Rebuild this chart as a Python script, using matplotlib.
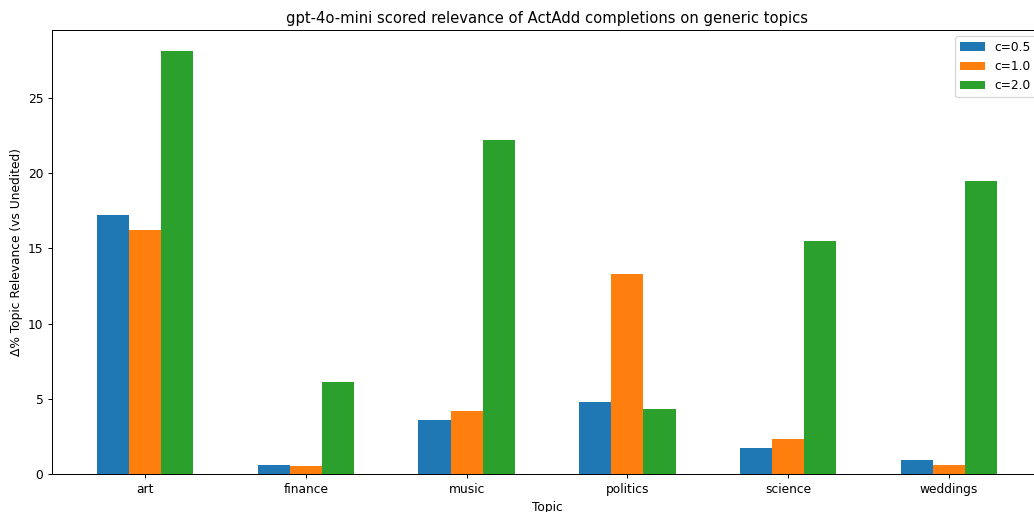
import numpy as np
import matplotlib.pyplot as plt

topics = ['art', 'finance', 'music', 'politics', 'science', 'weddings']
c_labels = ['c=0.5', 'c=1.0', 'c=2.0']
c05 = [17.2, 0.6, 3.6, 4.8, 1.7, 0.9]
c10 = [16.2, 0.5, 4.2, 13.3, 2.3, 0.6]
c20 = [28.1, 6.1, 22.2, 4.3, 15.5, 19.5]

DPI = 88.5
fig = plt.figure(figsize=(1034 / DPI, 512 / DPI), dpi=DPI)
# axes run slightly past the right edge of the canvas
ax = fig.add_axes([52 / 1034, 38 / 512, (1042 - 52) / 1034, (474 - 30) / 512])

x = np.arange(len(topics))
width = 0.2
for i, (vals, lab) in enumerate(zip([c05, c10, c20], c_labels)):
    ax.bar(x + (i - 1) * width, vals, width, label=lab)

ax.set_xticks(x)
ax.set_xticklabels(topics)
ax.set_xlabel('Topic')
ax.set_ylabel('Δ% Topic Relevance (vs Unedited)')
ax.set_title('gpt-4o-mini scored relevance of ActAdd completions on generic topics')
ax.legend(loc='upper right')

fig.savefig('out.png', dpi=DPI)
plt.close(fig)
